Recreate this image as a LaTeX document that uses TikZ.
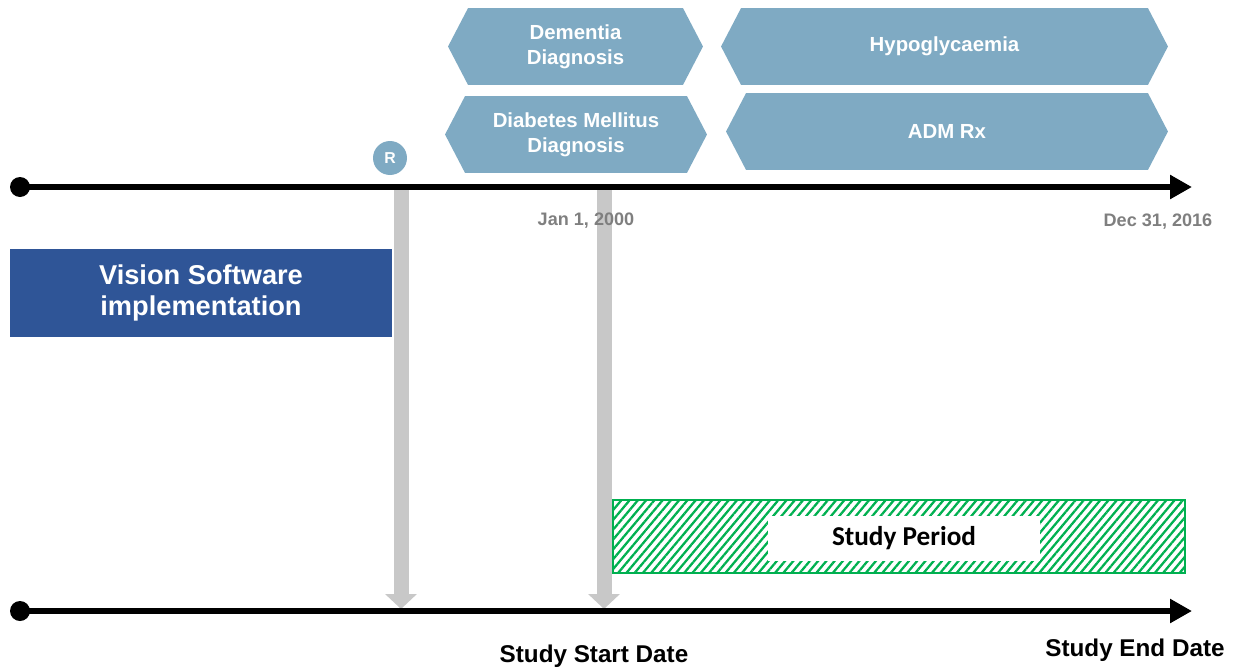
\documentclass[tikz,border=0pt]{standalone}
\usepackage{fontspec}
\setmainfont{Liberation Sans}
\newfontfamily\calibri{Carlito}
\usetikzlibrary{arrows.meta,shapes.symbols,patterns.meta}
\definecolor{hexblue}{RGB}{127,170,195}
\definecolor{visblue}{RGB}{47,85,151}
\definecolor{arrgrey}{RGB}{200,200,200}
\definecolor{dategrey}{RGB}{127,127,127}
\definecolor{studygreen}{RGB}{0,176,80}
\tikzset{%
  >={Triangle[width=0.46cm,length=0.44cm]},
     hexbox/.style = {shape=signal, signal to=east and west, signal pointer angle=125,
                      fill=hexblue, text=white, inner sep=0pt, align=center,
                      minimum height=1.54cm, font=\bfseries\fontsize{11.6}{14.2}\selectfont},
       axis/.style = {line width=0.13cm, ->},
        dot/.style = {circle, fill=black, minimum size=0.4cm, inner sep=0pt},
  greyarrow/.style = {line width=0.3cm, arrgrey, -{Triangle[width=0.62cm,length=0.3cm]}},
    datelbl/.style = {text=dategrey, font=\bfseries\fontsize{10.3}{12}\selectfont},
     endlbl/.style = {font=\bfseries\fontsize{13.8}{16}\selectfont},
}

\begin{document}
\begin{tikzpicture}[x=0.02cm, y=-0.02cm]
  \useasboundingbox (0,0) rectangle (1238,670);

  % event boxes
  \node (dementia) [hexbox, minimum width=5.1cm]  at (575.5,46.5) {Dementia\\Diagnosis};
  \node (diabetes) [hexbox, minimum width=5.24cm] at (576,134.5)  {Diabetes Mellitus\\Diagnosis};
  \node (hypo)     [hexbox, minimum width=8.94cm] at (944.5,46.5) {Hypoglycaemia};
  \node (admrx)    [hexbox, minimum width=8.84cm] at (947,131.5)  {ADM Rx};

  \node (rmark) [circle, fill=hexblue, text=white, minimum size=0.68cm, inner sep=0pt,
                 font=\bfseries\fontsize{9}{10}\selectfont] at (390,158) {R};

  % grey drop arrows
  \coordinate (swtop)  at (401,190);
  \coordinate (swbot)  at (401,609);
  \coordinate (jantop) at (604,190);
  \coordinate (janbot) at (604,609);
  \draw[greyarrow] (swtop) -- (swbot);
  \draw[greyarrow] (jantop) -- (janbot);

  % time axes
  \node (topdot) [dot] at (20,187) {};
  \coordinate (topend) at (1192,187);
  \draw[axis] (topdot.center) -- (topend);
  \node (botdot) [dot] at (20,611) {};
  \coordinate (botend) at (1192,611);
  \draw[axis] (botdot.center) -- (botend);

  \node (jan) [datelbl] at (586,221)  {Jan 1, 2000};
  \node (dec) [datelbl] at (1158,222) {Dec 31, 2016};

  \node (vision) [rectangle, fill=visblue, text=white, minimum width=7.64cm, minimum height=1.76cm,
                  align=center, font=\bfseries\fontsize{15.5}{18}\selectfont] at (201,293)
                 {Vision Software\\implementation};

  % study period
  \node (study) [rectangle, draw=studygreen, line width=1pt, minimum width=11.44cm, minimum height=1.46cm,
                 pattern={Lines[angle=50,distance=3.6pt,line width=1.3pt]}, pattern color=studygreen]
                at (899,536.5) {};
  \node (period) [rectangle, fill=white, minimum width=5.44cm, minimum height=0.9cm,
                  font=\calibri\bfseries\fontsize{15.5}{18}\selectfont] at (904,538.5) {Study Period};

  \node (startlbl) [endlbl] at (594,656)  {Study Start Date};
  \node (endlbl)   [endlbl] at (1135,650) {Study End Date};
\end{tikzpicture}
\end{document}
